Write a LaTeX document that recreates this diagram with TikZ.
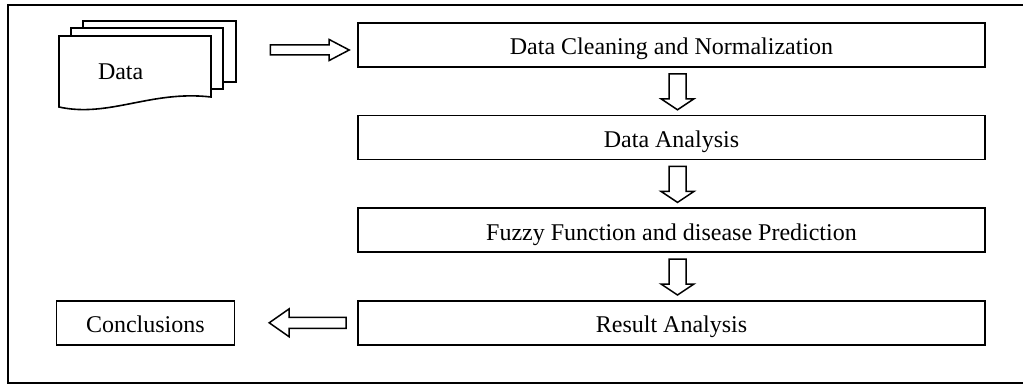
\documentclass[tikz,border=0pt]{standalone}
\usepackage{fontspec}
\setmainfont{Liberation Serif}
\usetikzlibrary{positioning,calc}

\tikzset{
  ba shaft/.store in=\bashaft, ba head/.store in=\bahead, ba len/.store in=\balen,
  ba shaft=2.5pt, ba head=5.25pt, ba len=10pt,
  blockarrow/.style={draw, line width=0.75pt, fill=white,
    to path={let \p1=($(\tikztotarget)-(\tikztostart)$), \n1={atan2(\y1,\x1)}, \n2={veclen(\x1,\y1)} in
      {[shift={(\tikztostart)}, rotate=\n1]
        (0pt,-\bashaft) -- (\n2-\balen,-\bashaft) -- (\n2-\balen,-\bahead) -- (\n2,0pt)
        -- (\n2-\balen,\bahead) -- (\n2-\balen,\bashaft) -- (0pt,\bashaft) -- cycle}}}
}

\begin{document}
\begin{tikzpicture}[x=1pt, y=1pt, node distance=23.5pt,
  stepbox/.style={draw, rectangle, line width=0.8pt, minimum width=313.5pt, minimum height=22pt,
    inner ysep=0pt, text height=16pt, text depth=6pt, font=\fontsize{12}{14}\selectfont},
  page/.style={draw, line width=0.8pt, fill=white},
  frame/.style={draw, line width=0.8pt}]
\useasboundingbox (0,0) rectangle (511.5,-192.5);

% Frame
\draw[frame] (520,-2.5) -- (4,-2.5) -- (4,-191.5) -- (520,-191.5);

% Data pages
\draw[page] (41.5,-10.5) rectangle (118,-41);
\draw[page] (35.5,-14) rectangle (111.5,-44.5);
\draw[page] (29.5,-18) -- (105.5,-18) -- (105.5,-48.5)
  .. controls +(-30pt,3.5pt) and +(25pt,-5.5pt) .. (29.5,-53.5) -- cycle;
\node[minimum width=76pt, minimum height=35.5pt, inner xsep=19.5pt, text width=37pt, align=left,
  font=\fontsize{12}{14}\selectfont] (data) at (67.5,-35.75) {Data};

% Nodes
\node[stepbox] (clean) at (335.75,-22.5) {Data Cleaning and Normalization};
\node[stepbox, below=of clean] (analysis) {Data Analysis};
\node[stepbox, below=of analysis] (fuzzy) {Fuzzy Function and disease Prediction};
\node[stepbox, below=of fuzzy] (result) {Result Analysis};
\node[stepbox, minimum width=89pt, left=61pt of result] (concl) {Conclusions};

% Arrows
\draw[blockarrow] ([xshift=29.5pt,yshift=10.75pt]data.east) to ([xshift=-4pt,yshift=-2.5pt]clean.west);
\draw[blockarrow, ba shaft=4.25pt, ba head=8.25pt, ba len=5.5pt]
  ([xshift=3pt,yshift=-3pt]clean.south) to ([xshift=3pt,yshift=2.5pt]analysis.north);
\draw[blockarrow, ba shaft=4.25pt, ba head=8.25pt, ba len=5.5pt]
  ([xshift=3pt,yshift=-3pt]analysis.south) to ([xshift=3pt,yshift=2.5pt]fuzzy.north);
\draw[blockarrow, ba shaft=4.25pt, ba head=8.25pt, ba len=5.5pt]
  ([xshift=3pt,yshift=-3pt]fuzzy.south) to ([xshift=3pt,yshift=2.5pt]result.north);
\draw[blockarrow, ba shaft=2.75pt, ba head=7pt] ([xshift=-5.5pt]result.west) to ([xshift=17pt]concl.east);

\end{tikzpicture}
\end{document}
